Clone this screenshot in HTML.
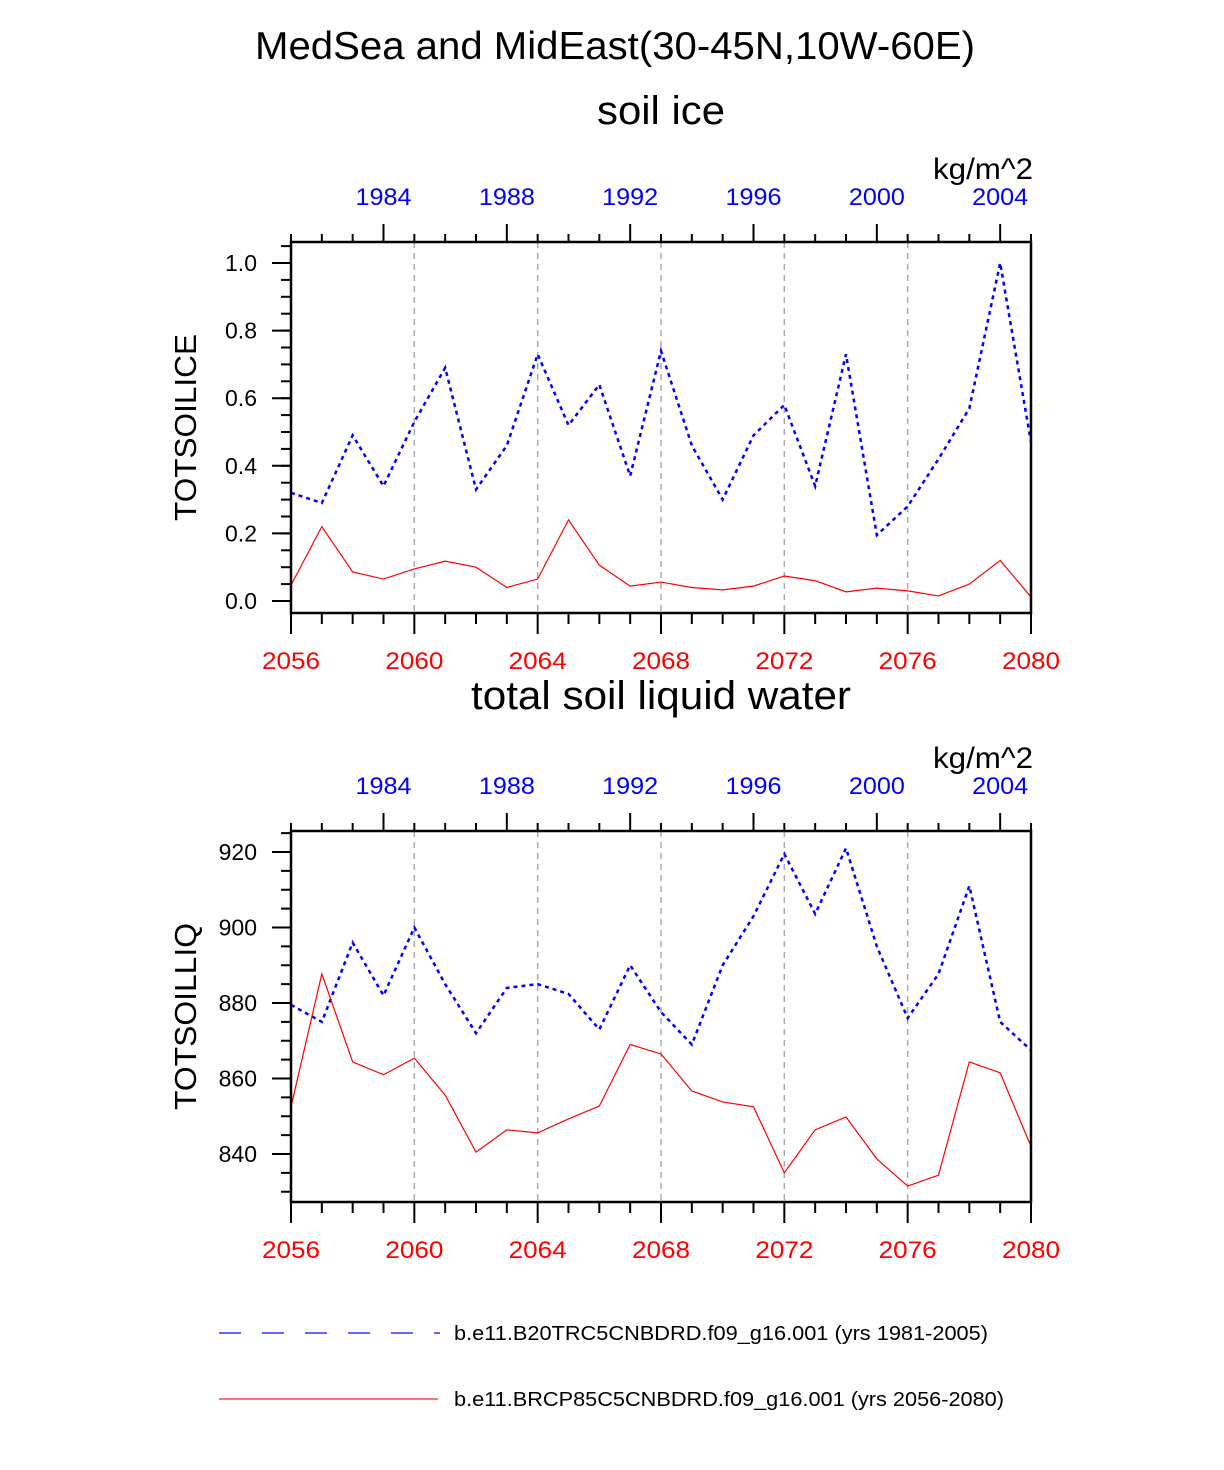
<!DOCTYPE html>
<html><head><meta charset="utf-8"><style>
html,body{margin:0;padding:0;background:#fff;}
svg{display:block;font-family:"Liberation Sans",Arial,sans-serif;}
</style></head><body>
<svg id="chart" width="1224" height="1470" viewBox="0 0 1224 1470" xmlns="http://www.w3.org/2000/svg">
<text x="615" y="59" font-size="39" text-anchor="middle" textLength="720" lengthAdjust="spacingAndGlyphs">MedSea and MidEast(30-45N,10W-60E)</text>
<text x="661" y="124" font-size="40" text-anchor="middle" textLength="128" lengthAdjust="spacingAndGlyphs">soil ice</text>
<text x="661" y="709" font-size="40" text-anchor="middle" textLength="380" lengthAdjust="spacingAndGlyphs">total soil liquid water</text>
<g id="p1"></g>
<g id="p2"></g>
<g>
<line x1="219" y1="1333" x2="440" y2="1333" stroke="#6666ff" stroke-width="2" stroke-dasharray="22,21"/>
<text x="454" y="1340" font-size="20" textLength="534" lengthAdjust="spacingAndGlyphs">b.e11.B20TRC5CNBDRD.f09_g16.001 (yrs 1981-2005)</text>
<line x1="219" y1="1399" x2="438" y2="1399" stroke="#ff4444" stroke-width="1.5"/>
<text x="454" y="1406" font-size="20" textLength="550" lengthAdjust="spacingAndGlyphs">b.e11.BRCP85C5CNBDRD.f09_g16.001 (yrs 2056-2080)</text>
</g>
</svg>
<script>
const years = [2056,2057,2058,2059,2060,2061,2062,2063,2064,2065,2066,2067,2068,2069,2070,2071,2072,2073,2074,2075,2076,2077,2078,2079,2080];
const iceBlue = [0.32,0.29,0.49,0.34,0.53,0.69,0.33,0.46,0.73,0.52,0.64,0.37,0.74,0.46,0.30,0.49,0.58,0.34,0.73,0.195,0.28,0.42,0.57,1.0,0.47];
const iceRed = [0.047,0.22,0.086,0.065,0.095,0.118,0.10,0.04,0.065,0.24,0.106,0.044,0.056,0.04,0.033,0.044,0.074,0.06,0.027,0.038,0.03,0.015,0.05,0.12,0.012];
const liqBlue = [879.5,875,896,882,900,885,872,884,885,882.4,873,890,877.6,869,890,903,919.5,903.6,921,895,876,887.7,911,875,867.5];
const liqRed = [852.5,887.7,864.4,861,865.4,855.6,840.5,846.4,845.6,849.3,852.7,869,866.5,856.7,853.8,852.5,835,846.4,849.8,838.7,831.5,834.4,864.4,861.5,842];
const bottomTicks = [2056,2060,2064,2068,2072,2076,2080];
const topTicks = [1984,1988,1992,1996,2000,2004];
const iceTicks = [0,0.2,0.4,0.6,0.8,1.0];
const liqTicks = [840,860,880,900,920];
const NS='http://www.w3.org/2000/svg';
function el(p,t,a){const e=document.createElementNS(NS,t);for(const k in a)e.setAttribute(k,a[k]);p.appendChild(e);return e;}
function panel(g,top,bottom,y0,y1,py0,py1,yt,ymin,ymax,ystep,minorStep,fmt,ytitle,blue,red){
  const L=291,R=1031;
  const x=v=>L+(v-2056)*(R-L)/24;
  const y=v=>py0+(v-y0)*(py1-py0)/(y1-y0);
  for(const t of bottomTicks){ if(t===2056||t===2080)continue;
    const gl=el(g,'line',{x1:x(t),x2:x(t),y1:top,y2:bottom,stroke:'#aaa','stroke-width':1.5,'stroke-dasharray':'6,5'});
    
    
  }
  const mk=(arr,col,dash,w,name)=>{
    const p=el(g,'polyline',{points:arr.map((v,i)=>x(years[i])+','+y(v)).join(' '),fill:'none',stroke:col,'stroke-width':w});
    if(dash)p.setAttribute('stroke-dasharray',dash);
    
    
  };
  mk(blue,'#0000ff','4,4',2.5,'historical-series-line');
  mk(red,'#ff0000',null,1.2,'future-series-line');
  const fr=el(g,'rect',{x:L,y:top,width:R-L,height:bottom-top,fill:'none',stroke:'#000','stroke-width':2.5});
  
  
  for(let yr=2056;yr<=2080;yr++){
    const maj=(yr-2056)%4===0;
    el(g,'line',{x1:x(yr),x2:x(yr),y1:bottom,y2:bottom+(maj?21:11),stroke:'#000','stroke-width':2});
    const ty=yr-75;
    el(g,'line',{x1:x(yr),x2:x(yr),y1:top,y2:top-((ty-1984)%4===0?18:8),stroke:'#000','stroke-width':2});
  }
  for(const t of bottomTicks){
    const tx=el(g,'text',{x:x(t),y:bottom+56,'font-size':24,fill:'#ff0000','text-anchor':'middle',textLength:58,lengthAdjust:'spacingAndGlyphs'});
    tx.textContent=t;
    
    
  }
  for(const t of topTicks){
    const tx=el(g,'text',{x:x(t+75),y:top-37,'font-size':24,fill:'#0000ff','text-anchor':'middle',textLength:56,lengthAdjust:'spacingAndGlyphs'});
    tx.textContent=t;
    
    
  }
  for(let v=ymin;v<=ymax+1e-9;v+=minorStep){
    const yy=y(v); if(yy<top-0.5||yy>bottom+0.5)continue;
    el(g,'line',{x1:L-10,x2:L,y1:yy,y2:yy,stroke:'#000','stroke-width':2});
  }
  for(const t of yt){
    el(g,'line',{x1:L-19,x2:L,y1:y(t),y2:y(t),stroke:'#000','stroke-width':2});
    const tx=el(g,'text',{x:L-34,y:y(t)+8,'font-size':23,'text-anchor':'end'});
    tx.textContent=fmt(t);
    
    
  }
  const yl=el(g,'text',{x:0,y:0,'font-size':31,'text-anchor':'middle',transform:`translate(196,${(top+bottom)/2}) rotate(-90)`,textLength:187,lengthAdjust:'spacingAndGlyphs'});
  yl.textContent=ytitle;
  
  
  const u=el(g,'text',{x:1033,y:top-63,'font-size':30,'text-anchor':'end',textLength:100,lengthAdjust:'spacingAndGlyphs'});
  u.textContent='kg/m^2';
  
  
}
panel(document.getElementById('p1'),242,613,0,1,601,263,iceTicks,-0.05,1.1,0.05,0.05,v=>v.toFixed(1),'TOTSOILICE',iceBlue,iceRed);
panel(document.getElementById('p2'),831,1202,840,920,1154,852,liqTicks,825,930,5,5,v=>String(v),'TOTSOILLIQ',liqBlue,liqRed);
</script>
</body></html>
